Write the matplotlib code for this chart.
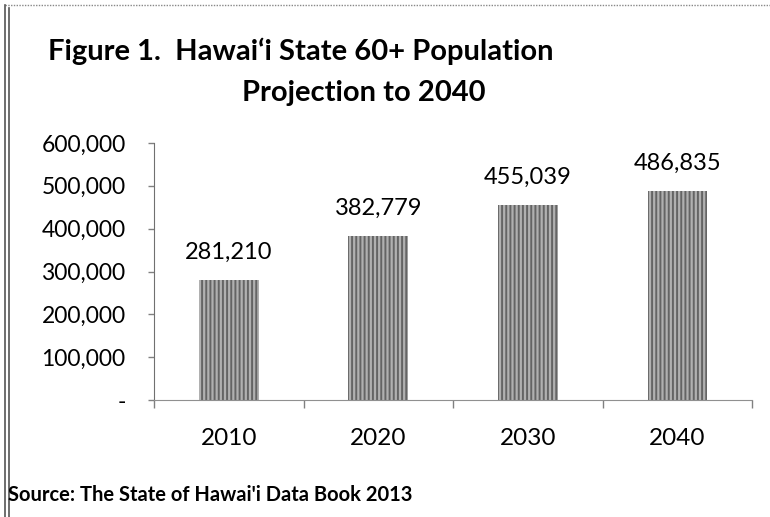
import matplotlib
matplotlib.use("Agg")
import matplotlib.pyplot as plt
from matplotlib.lines import Line2D
import numpy as np

years = ["2010", "2020", "2030", "2040"]
population = [281210, 382779, 455039, 486835]
ytick_vals = [0, 100000, 200000, 300000, 400000, 500000, 600000]
ytick_labels = ["-", "100,000", "200,000", "300,000", "400,000", "500,000", "600,000"]

plt.rcParams['font.family'] = ['Lato', 'DejaVu Sans']
plt.rcParams['hatch.linewidth'] = 1.4
plt.rcParams['hatch.color'] = '#646464'

fig = plt.figure(figsize=(7.7, 5.17), dpi=100)
ax = fig.add_axes([0.2, 0.2263, 0.777, 0.4971])

x = np.arange(len(years))
bars = ax.bar(x, population, width=0.4, color='#b0b0b0', edgecolor='#646464',
              linewidth=0, hatch='||||')

for xi, v in zip(x, population):
    ax.text(xi, v + 40000, f"{v:,}", ha='center', va='bottom', fontsize=17)

ax.set_xlim(-0.5, len(years) - 0.5)
ax.set_ylim(0, 600000)
ax.set_yticks(ytick_vals)
ax.set_yticklabels(ytick_labels, fontsize=16.5)
ax.set_xticks(x)
ax.set_xticklabels(years, fontsize=17.5)
ax.tick_params(axis='x', length=0, pad=20)
ax.tick_params(axis='y', length=4.5, width=1, color='#808080', pad=16)

# category boundary ticks on x axis
ax.set_xticks(np.arange(-0.5, len(years)), minor=True)
ax.tick_params(axis='x', which='minor', length=6, width=1, color='#808080')

for s in ['top', 'right']:
    ax.spines[s].set_visible(False)
ax.spines['left'].set_color('#707070')
ax.spines['bottom'].set_color('#909090')
ax.spines['bottom'].set_linestyle((0, (2, 1)))

fig.text(0.0623, 0.90, "Figure 1.  Hawai\u2018i State 60+ Population",
         fontsize=21, fontweight='bold', ha='left', va='center')
fig.text(0.473, 0.821, "Projection to 2040",
         fontsize=21, fontweight='bold', ha='center', va='center')
fig.text(0.011, 0.042, "Source: The State of Hawai'i Data Book 2013",
         fontsize=14.5, fontweight='bold', ha='left', va='center')

# outer frame lines
fig.add_artist(Line2D([0.007, 1.0], [0.99, 0.99], color='#888888', lw=1,
                      linestyle=(0, (1, 1))))
fig.add_artist(Line2D([0.007, 0.007], [0.0, 0.99], color='#555555', lw=1.2))
fig.add_artist(Line2D([0.012, 0.012], [0.0, 0.985], color='#555555', lw=1.2))

fig.savefig("out.png", dpi=100)
